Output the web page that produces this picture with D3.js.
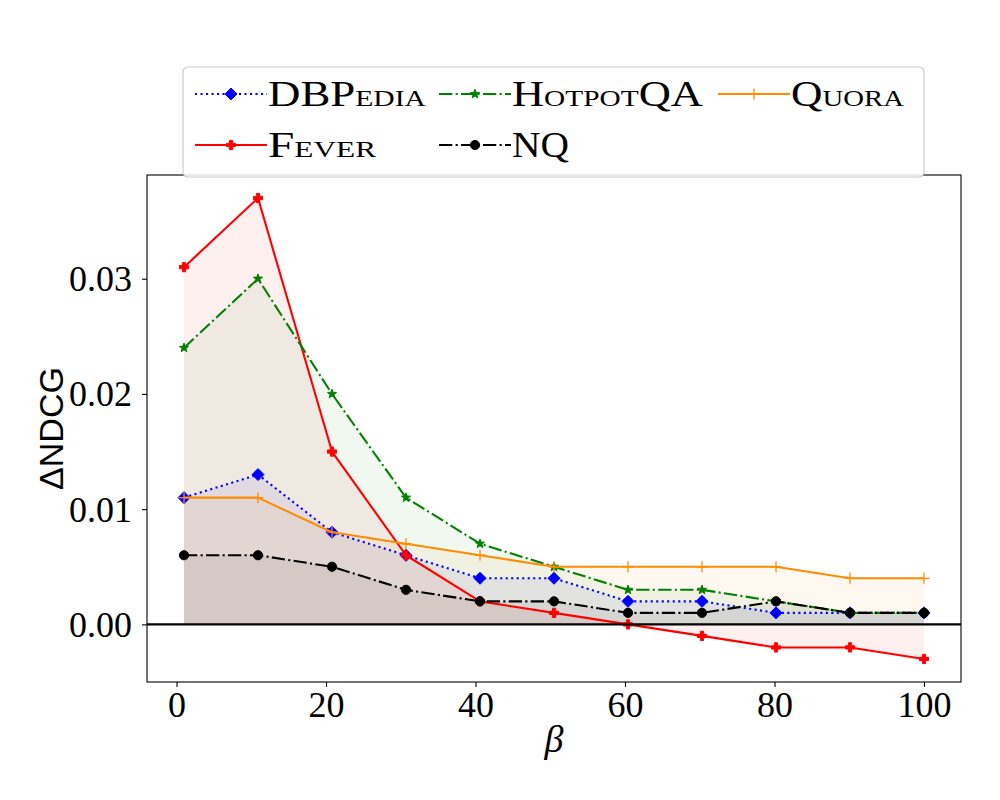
<!DOCTYPE html>
<html><head><meta charset="utf-8">
<script src="https://cdn.jsdelivr.net/npm/d3@7"></script>
<style>body{margin:0;background:#fff}</style>
</head><body>
<svg id="chart" width="1000" height="800"></svg>
<script>
// ---- data ----
const betas = [1, 10.9, 20.8, 30.7, 40.6, 50.5, 60.4, 70.3, 80.2, 90.1, 100];
const seriesNames = ["DBPedia", "Fever", "HotpotQA", "NQ", "Quora"];
const dbpedia  = [0.011, 0.013, 0.008, 0.006, 0.004, 0.004, 0.002, 0.002, 0.001, 0.001, 0.001];
const fever    = [0.031, 0.037, 0.015, 0.006, 0.002, 0.001, 0.000, -0.001, -0.002, -0.002, -0.003];
const hotpotqa = [0.024, 0.030, 0.020, 0.011, 0.007, 0.005, 0.003, 0.003, 0.002, 0.001, 0.001];
const nq       = [0.006, 0.006, 0.005, 0.003, 0.002, 0.002, 0.001, 0.001, 0.002, 0.001, 0.001];
const quora    = [0.011, 0.011, 0.008, 0.007, 0.006, 0.005, 0.005, 0.005, 0.005, 0.004, 0.004];
const seriesValues = [dbpedia, fever, hotpotqa, nq, quora];
const xTicks = [0, 20, 40, 60, 80, 100];
const yTicks = [0.00, 0.01, 0.02, 0.03];
const xLabel = "β";
const yLabel = "ΔNDCG";

// ---- styles ----
const styles = {
  "DBPedia":  {color: "#0000ff", dash: "2.1,3.4", marker: "diamond", lw: 2.1, legendWidth: 158},
  "Fever":    {color: "#ff0000", dash: null, marker: "plusFilled", lw: 2.1, legendWidth: 108},
  "HotpotQA": {color: "#008000", dash: "13.3,3.3,2.1,3.3", marker: "star", lw: 2.1, legendWidth: 191},
  "NQ":       {color: "#000000", dash: "13.3,3.3,2.1,3.3", marker: "circle", lw: 2.1, legendWidth: 57},
  "Quora":    {color: "#ff8c00", dash: null, marker: "plus", lw: 2.1, legendWidth: 113}
};
const SERIF = "'Liberation Serif', 'Times New Roman', serif";
const SANS = "'Liberation Sans', Arial, sans-serif";

const svg = d3.select("#chart");
const L = 147, R = 961, T = 175, B = 682;
const x = d3.scaleLinear().domain([-3.95, 104.95]).range([L, R]);
const y = d3.scaleLinear().domain([-0.005, 0.039]).range([B, T]);

const series = seriesNames.map((n, i) => ({name: n, values: seriesValues[i].map((v, j) => ({b: betas[j], v}))}));

// fills
const area = d3.area().x(d => x(d.b)).y0(y(0)).y1(d => y(d.v));
svg.append("g").selectAll("path").data(series).join("path")
  .attr("d", d => area(d.values))
  .attr("fill", d => styles[d.name].color)
  .attr("fill-opacity", 0.06)
  .attr("stroke", "none");

// marker drawing
function drawMarker(g, type, color, cx, cy) {
  if (type === "diamond") {
    const r = 6;
    g.append("path").attr("d", `M${cx},${cy - r}L${cx + r},${cy}L${cx},${cy + r}L${cx - r},${cy}Z`)
      .attr("fill", color).attr("stroke", color).attr("stroke-width", 1);
  } else if (type === "circle") {
    g.append("circle").attr("cx", cx).attr("cy", cy).attr("r", 4.6)
      .attr("fill", color).attr("stroke", color).attr("stroke-width", 1);
  } else if (type === "star") {
    const ro = 4.8, ri = 2.0;
    let p = "";
    for (let k = 0; k < 10; k++) {
      const a = -Math.PI / 2 + k * Math.PI / 5;
      const rr = k % 2 === 0 ? ro : ri;
      p += (k === 0 ? "M" : "L") + (cx + rr * Math.cos(a)).toFixed(2) + "," + (cy + rr * Math.sin(a)).toFixed(2);
    }
    g.append("path").attr("d", p + "Z").attr("fill", color).attr("stroke", color).attr("stroke-width", 1);
  } else if (type === "plus") {
    const r = 5.5;
    g.append("path").attr("d", `M${cx - r},${cy}L${cx + r},${cy}M${cx},${cy - r}L${cx},${cy + r}`)
      .attr("stroke", color).attr("stroke-width", 1.3).attr("fill", "none");
  } else if (type === "plusFilled") {
    const r = 4.6, w = 1.6;
    const p = `M${cx - w},${cy - r}H${cx + w}V${cy - w}H${cx + r}V${cy + w}H${cx + w}V${cy + r}H${cx - w}V${cy + w}H${cx - r}V${cy - w}H${cx - w}Z`;
    g.append("path").attr("d", p).attr("fill", color).attr("stroke", color).attr("stroke-width", 1);
  }
}

// lines + markers
const line = d3.line().x(d => x(d.b)).y(d => y(d.v));
series.forEach(s => {
  const st = styles[s.name];
  const g = svg.append("g");
  g.append("path").attr("d", line(s.values)).attr("fill", "none")
    .attr("stroke", st.color).attr("stroke-width", st.lw)
    .attr("stroke-dasharray", st.dash).attr("stroke-linejoin", "round");
  s.values.forEach(d => drawMarker(g, st.marker, st.color, x(d.b), y(d.v)));
});

// zero line
svg.append("line").attr("x1", L).attr("x2", R).attr("y1", y(0)).attr("y2", y(0))
  .attr("stroke", "#000").attr("stroke-width", 2.1);

// frame
svg.append("rect").attr("x", L).attr("y", T).attr("width", R - L).attr("height", B - T)
  .attr("fill", "none").attr("stroke", "#000").attr("stroke-width", 1.1);

// x axis
const xAxis = svg.append("g").attr("transform", `translate(0,${B})`)
  .call(d3.axisBottom(x).tickValues(xTicks).tickSize(5).tickPadding(8).tickFormat(d3.format("d")));
xAxis.select(".domain").remove();
xAxis.selectAll("line").attr("stroke-width", 1.1);
xAxis.selectAll("text").attr("font-family", SERIF).attr("font-size", 36).attr("fill", "#000")
  .attr("dy", null).attr("y", 35);

// y axis
const yAxis = svg.append("g").attr("transform", `translate(${L},0)`)
  .call(d3.axisLeft(y).tickValues(yTicks).tickSize(5).tickPadding(10).tickFormat(d3.format(".2f")));
yAxis.select(".domain").remove();
yAxis.selectAll("line").attr("stroke-width", 1.1);
yAxis.selectAll("text").attr("font-family", SERIF).attr("font-size", 36).attr("fill", "#000")
  .attr("dy", null).attr("y", 12).attr("x", -15);

// axis labels
svg.append("text").attr("x", (L + R) / 2).attr("y", 752).attr("text-anchor", "middle")
  .attr("font-family", SERIF).attr("font-style", "italic").attr("font-size", 38).text(xLabel);
svg.append("text").attr("transform", `translate(63,${(T + B) / 2}) rotate(-90)`).attr("text-anchor", "middle")
  .attr("font-family", SANS).attr("font-size", 34).text(yLabel);

// legend
const lg = svg.append("g");
lg.append("rect").attr("x", 183).attr("y", 67).attr("width", 741).attr("height", 110).attr("rx", 5)
  .attr("fill", "#fff").attr("fill-opacity", 0.85).attr("stroke", "#cccccc").attr("stroke-width", 1.2);
const colX = [195, 439, 718], rowY = [94, 145];
const handleLen = 72, fs = 36;
seriesNames.forEach((n, i) => {
  const st = styles[n];
  const col = Math.floor(i / 2), row = i % 2;
  const hx = colX[col], hy = rowY[row];
  lg.append("line").attr("x1", hx).attr("x2", hx + handleLen).attr("y1", hy).attr("y2", hy)
    .attr("stroke", st.color).attr("stroke-width", st.lw).attr("stroke-dasharray", st.dash);
  drawMarker(lg, st.marker, st.color, hx + handleLen / 2, hy);
  const t = lg.append("text").attr("x", hx + handleLen + 1).attr("y", hy + 12)
    .attr("font-family", SERIF).attr("font-size", fs).attr("fill", "#000")
    .attr("textLength", st.legendWidth).attr("lengthAdjust", "spacingAndGlyphs");
  // small caps: split into runs of upper / lower case
  const runs = n.match(/[A-Z]+|[a-z]+/g);
  runs.forEach(r => {
    const lower = r === r.toLowerCase();
    t.append("tspan").attr("font-size", lower ? fs * 0.66 : fs).text(r.toUpperCase());
  });
});
</script>
</body></html>
